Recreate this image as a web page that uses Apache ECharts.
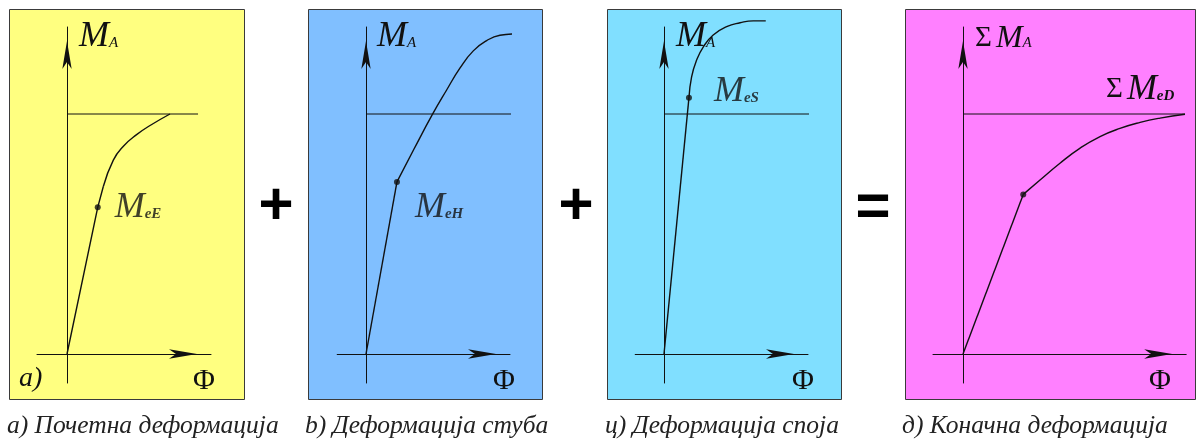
<!DOCTYPE html>
<html>
<head>
<meta charset="utf-8">
<script src="https://cdn.jsdelivr.net/npm/echarts@6/dist/echarts.min.js"></script>
<style>
    html, body { margin: 0; padding: 0; background: #fff; }
    #chart { width: 1196px; height: 440px; }
</style>
</head>
<body>
<div id="chart"></div>
<script>
    // вредности очитане са слике, M_e = 100
    const captions = ['а) Почетна деформација', 'b) Деформација стуба', 'ц) Деформација споја', 'д) Коначна деформација']
    const meLevel = 100
    const levelEnd = [54.6, 66.7, 66.3, 92.5]

    const linA = [[0, 0], [12.8, 61.1], [15.1, 69.7]]
    const curA = [[15.1, 69.7], [19.3, 80.8], [23.5, 86.6], [29, 91.4], [34.6, 95.2], [42.9, 100]]
    const dotA = [12.8, 61.1]

    const linB = [[0, 0], [12.9, 71.7]]
    const curB = [[12.9, 71.7], [20, 85.4], [27.5, 99.5], [33.6, 110], [39.2, 119.2], [44.7, 126.3], [50.3, 130.6], [55.8, 132.8], [62.8, 133.4], [70.4, 133.4]]
    const dotB = [12.9, 71.7]

    const linC = [[0, 0], [10.4, 106.8]]
    const curC = [[10.4, 106.8], [11.5, 115.5], [13.6, 122.5], [16.4, 128], [20.5, 132.9], [26.1, 136.4], [31.7, 138], [37.2, 138.8], [42.4, 138.8]]
    const dotC = [10.4, 106.8]

    const linD = [[0, 0], [25.1, 66.5]]
    const curD = [[25.1, 66.5], [32.1, 72.5], [40.4, 79.5], [48.8, 85.8], [57.1, 90.6], [65.4, 94], [73.8, 96.5], [82.1, 98.3], [92.5, 99.9]]
    const dotD = [25.1, 66.5]

    const lines = [linA, linB, linC, linD]
    const curves = [curA, curB, curC, curD]
    const dots = [dotA, dotB, dotC, dotD]
    const dotLabels = ['eE', 'eH', 'eS', '']

    // распоред
    const S = 2.4
    const origins = [[67, 354], [366, 354], [664, 354], [963, 354]]
    const xRanges = [[-12.5, 60], [-12, 60], [-12, 60], [-12.5, 93]]
    const yRange = [-12.1, 136.25]
    const boxes = [[9.5, 244.5], [308.5, 542.5], [607.5, 841.5], [905.5, 1195.5]]
    const colors = ['#ffff80', '#80bfff', '#80dfff', '#ff80ff']
    const ink = '#111'
    const serif = 'Liberation Serif'

    const rich = {
        g: {fontFamily: serif, fontSize: 29, color: ink, padding: [0, 4, 0, 0]},
        m: {fontFamily: serif, fontStyle: 'italic', fontSize: 36, color: ink},
        m2: {fontFamily: serif, fontStyle: 'italic', fontSize: 32, color: ink},
        s: {fontFamily: serif, fontStyle: 'italic', fontSize: 15, color: ink, verticalAlign: 'bottom', padding: [0, 0, 4, 0]},
        b: {fontFamily: serif, fontStyle: 'italic', fontWeight: 'bold', fontSize: 15, color: ink, verticalAlign: 'bottom', padding: [0, 0, 4, 0]}
    }

    const chart = echarts.init(document.getElementById('chart'))

    const grids = [], xAxes = [], yAxes = [], series = [], graphics = []
    const axisLine = {
        show: true,
        onZero: true,
        symbol: ['none', 'arrow'],
        symbolSize: [7, 28],
        symbolOffset: [0, -14],
        lineStyle: {color: ink, width: 1}
    }

    origins.forEach(function (o, i) {
        const xr = xRanges[i]
        grids.push({
            left: o[0] + xr[0] * S,
            top: o[1] - yRange[1] * S,
            width: (xr[1] - xr[0]) * S,
            height: (yRange[1] - yRange[0]) * S,
            outerBoundsMode: 'none',
            containLabel: false
        })
        xAxes.push({
            type: 'value', gridIndex: i, min: xr[0], max: xr[1],
            axisLine: axisLine, axisTick: {show: false}, axisLabel: {show: false}, splitLine: {show: false}
        })
        yAxes.push({
            type: 'value', gridIndex: i, min: yRange[0], max: yRange[1],
            axisLine: axisLine, axisTick: {show: false}, axisLabel: {show: false}, splitLine: {show: false}
        })
        series.push({
            type: 'line', xAxisIndex: i, yAxisIndex: i, clip: false, symbol: 'none', silent: true,
            data: [[0, meLevel], [levelEnd[i], meLevel]],
            lineStyle: {color: ink, width: 1}
        })
        series.push({
            type: 'line', xAxisIndex: i, yAxisIndex: i, clip: false, symbol: 'none', silent: true,
            data: lines[i],
            lineStyle: {color: ink, width: 1.4}
        })
        series.push({
            type: 'line', xAxisIndex: i, yAxisIndex: i, clip: false, symbol: 'none', silent: true,
            smooth: 0.5,
            data: curves[i],
            lineStyle: {color: ink, width: 1.4}
        })
        series.push({
            type: 'scatter', xAxisIndex: i, yAxisIndex: i, clip: false, silent: true,
            symbolSize: 6, itemStyle: {color: ink},
            data: [dots[i]],
            label: {
                show: dotLabels[i] !== '',
                position: 'right',
                distance: [14, 15, 22][i] || 0,
                offset: [[0, 0], [0, 26], [0, -6]][i] || [0, 0],
                formatter: '{m|M}{b|' + dotLabels[i] + '}',
                rich: rich
            }
        })

        const b = boxes[i]
        graphics.push({
            type: 'rect', z: -10,
            shape: {x: b[0], y: 9.5, width: b[1] - b[0], height: 390},
            style: {fill: colors[i], stroke: '#3a3a3a', lineWidth: 1}
        })
    })

    function txt(text, x, baseline, size, extra) {
        return {
            type: 'text', z: 100, x: x, y: baseline - 0.34 * size,
            style: Object.assign({text: text, verticalAlign: 'middle', fill: ink, rich: rich, fontFamily: serif, fontSize: size}, extra || {})
        }
    }

    // ознаке оса
    graphics.push(txt('{m|M}{s|A}', 79, 49, 36))
    graphics.push(txt('{m|M}{s|A}', 377, 49, 36))
    graphics.push(txt('{m|M}{s|A}', 676, 49, 36))
    graphics.push(txt('{g|Σ}{m2|M}{s|A}', 975, 49, 32))
    graphics.push(txt('{g|Σ}{m|M}{b|eD}', 1106, 102, 36))
    ;[193, 493, 792, 1149].forEach(function (x) {
        graphics.push(txt('Φ', x, 391, 30))
    })
    graphics.push(txt('a)', 19, 388, 28, {fontStyle: 'italic'}))

    // знаци између панела
    graphics.push({type: 'text', z: 100, x: 276, y: 207, style: {text: '+', fontFamily: 'Liberation Sans', fontWeight: 'bold', fontSize: 60, fill: '#000', align: 'center', verticalAlign: 'middle'}})
    graphics.push({type: 'text', z: 100, x: 576, y: 207, style: {text: '+', fontFamily: 'Liberation Sans', fontWeight: 'bold', fontSize: 60, fill: '#000', align: 'center', verticalAlign: 'middle'}})
    graphics.push({type: 'text', z: 100, x: 873, y: 208, style: {text: '=', fontFamily: 'Liberation Sans', fontWeight: 'bold', fontSize: 60, fill: '#000', align: 'center', verticalAlign: 'middle'}})

    // натписи испод панела
    ;[7, 305, 605, 902].forEach(function (x, i) {
        graphics.push(txt(captions[i], x, 435, 25.5, {fontStyle: 'italic', fill: '#222'}))
    })

    const option = {
        animation: false,
        grid: grids,
        xAxis: xAxes,
        yAxis: yAxes,
        series: series,
        graphic: {elements: graphics}
    }
    option && chart.setOption(option)
</script>
</body>
</html>
